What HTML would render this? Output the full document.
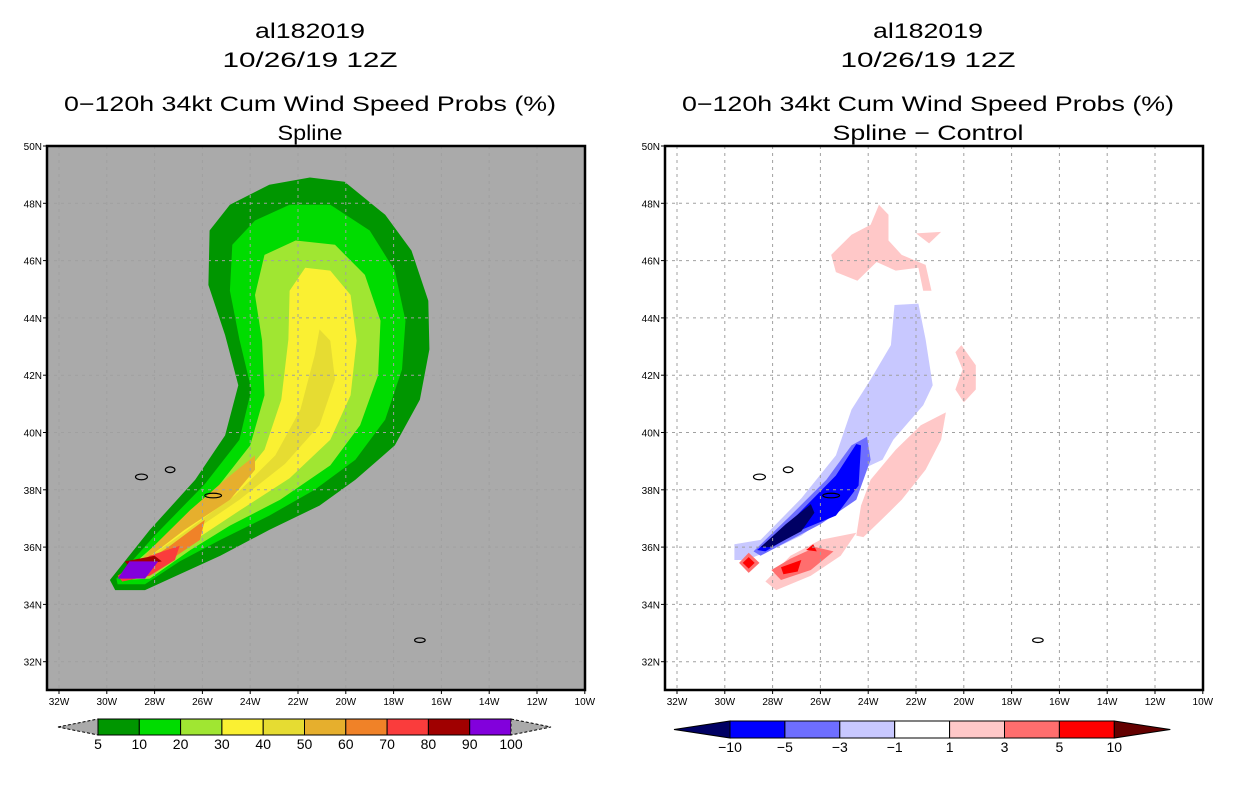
<!DOCTYPE html>
<html><head><meta charset="utf-8"><style>
html,body{margin:0;padding:0;background:#fff;}
svg{display:block;font-family:"Liberation Sans",sans-serif;}
</style></head><body>
<svg id="chart" width="1236" height="800" viewBox="0 0 1236 800" xmlns="http://www.w3.org/2000/svg">
<g id="titles"></g>
<g id="left"></g>
<g id="right"></g>
</svg>
<script>
// ---------- data (lon in degrees West, lat in degrees North) ----------
const lonTicks = [32,30,28,26,24,22,20,18,16,14,12,10];
const latTicks = [32,34,36,38,40,42,44,46,48,50];
const leftLevels = ['5','10','20','30','40','50','60','70','80','90','100'];
const leftColors = ['#009600','#00dc00','#a0e632','#faf032','#e6dc32','#e6af2d','#f08228','#fa3c3c','#a00000','#8200dc'];
const rightLevels = ['\u221210','\u22125','\u22123','\u22121','1','3','5','10'];
const rightColors = ['#000064','#0000ff','#6e6eff','#c8c8ff','#ffffff','#ffc8c8','#ff6e6e','#ff0000','#640000'];

const p5 = [[29.87,34.85],[28.2,36.6],[26.3,38.35],[25.05,39.9],[24.5,41.65],[25.05,43.4],[25.75,45.15],[25.7,47.05],[24.85,47.95],[23.2,48.65],[21.5,48.9],[20.05,48.75],[18.35,47.6],[17.25,46.35],[16.55,44.6],[16.5,42.9],[16.9,41.15],[17.95,39.55],[19.6,38.35],[21.1,37.45],[23.2,36.6],[25.25,35.7],[26.95,35.05],[28.4,34.5],[29.65,34.5]];
const p10 = [[29.6,34.9],[28.0,36.4],[25.9,38.2],[24.45,39.75],[23.95,41.5],[24.45,43.25],[24.85,44.95],[24.75,46.55],[23.8,47.4],[22.35,47.95],[20.65,47.95],[19.0,47.05],[17.95,45.65],[17.5,43.9],[17.65,42.2],[18.35,40.45],[19.6,39.05],[21.3,38.0],[23.2,37.1],[25.25,36.25],[26.95,35.5],[28.4,34.7],[29.55,34.7]];
const p20 = [[29.45,35.0],[27.8,36.2],[25.45,38.0],[24.0,39.55],[23.4,41.3],[23.5,43.2],[23.8,44.8],[23.4,46.2],[22.1,46.7],[20.45,46.55],[19.2,45.5],[18.55,43.9],[18.65,42.0],[19.4,40.25],[20.65,38.85],[22.75,37.65],[24.85,36.75],[26.5,35.9],[28.2,34.9],[29.35,34.85]];
const p30 = [[29.25,35.1],[27.35,36.25],[24.85,37.9],[23.4,39.4],[22.7,41.15],[22.4,43.25],[22.35,44.95],[21.7,45.75],[20.65,45.65],[19.8,44.8],[19.55,43.2],[19.8,41.3],[20.65,39.75],[22.35,38.4],[24.4,37.3],[26.3,36.25],[27.95,35.2],[29.1,34.9]];
const p40 = [[29.0,35.2],[26.95,36.4],[24.65,37.8],[22.95,39.2],[21.9,40.8],[21.3,42.7],[21.1,43.6],[20.65,43.2],[20.45,41.85],[21.1,40.25],[22.55,38.9],[24.45,37.65],[26.3,36.6],[28.2,35.4]];
const p50 = [[28.8,35.3],[26.75,36.6],[24.85,37.65],[23.8,38.7],[23.8,39.2],[25.05,38.35],[26.5,37.3],[28.2,35.9]];
const p60 = [[28.6,35.35],[27.35,36.05],[25.9,36.95],[26.1,36.25],[27.35,35.55]];
const p70 = [[29.55,35.0],[28.2,35.7],[26.95,36.05],[27.15,35.55],[28.2,35.0],[29.35,34.8]];
const p80 = [[29.25,35.5],[28.0,35.7],[27.7,35.5],[29.05,35.3]];
const p90 = [[29.55,34.9],[29.05,35.5],[27.85,35.5],[28.4,34.9]];

const nLight = [[29.6,36.1],[28.5,36.25],[26.8,37.7],[25.35,39.2],[24.7,40.8],[23.9,41.85],[23.05,43.05],[22.9,44.45],[21.9,44.5],[21.6,43.25],[21.3,41.65],[21.7,40.95],[22.95,39.75],[23.4,39.05],[24.3,38.7],[25.35,37.3],[26.8,36.4],[28.05,35.9],[29.1,35.55],[29.6,35.55]];
const nMed = [[28.8,35.85],[27.25,37.1],[25.75,38.35],[24.7,39.55],[24.05,39.85],[23.9,39.05],[24.5,37.65],[26.0,36.8],[27.25,36.25],[28.5,35.7]];
const nBlue = [[28.65,35.9],[27.0,37.1],[25.35,38.5],[24.5,39.6],[24.3,39.55],[24.4,38.15],[25.35,37.1],[26.8,36.6],[28.3,35.85]];
const nNavy = [[28.5,36.0],[27.45,36.8],[26.4,37.5],[26.25,37.2],[26.8,36.55],[28.05,36.0]];
const pinkA = [[24.5,36.4],[24.3,37.45],[23.9,38.35],[22.85,39.4],[21.8,40.25],[20.75,40.7],[20.95,39.75],[21.6,38.7],[22.6,37.65],[23.45,36.95],[24.2,36.35]];
const pinkB = [[28.3,34.8],[27.25,35.7],[26.0,36.25],[24.5,36.5],[25.15,35.7],[26.4,35.0],[27.85,34.5]];
const pinkTop = [[25.55,46.2],[24.7,46.9],[23.9,47.25],[23.55,47.95],[23.15,47.6],[23.15,46.7],[22.6,46.2],[21.6,45.85],[21.35,44.95],[21.7,44.95],[21.9,45.75],[22.85,45.65],[23.65,45.95],[24.45,45.3],[25.35,45.6]];
const pinkSmall = [[22.0,46.95],[20.95,47.0],[21.45,46.6]];
const pinkCres = [[20.1,43.05],[19.5,42.35],[19.5,41.5],[20.0,41.05],[20.35,41.5],[20.05,42.2],[20.35,42.8]];
const red3 = [[28.05,35.2],[27.25,35.6],[26.2,36.0],[25.45,35.85],[26.4,35.2],[27.65,34.85]];
const red3d = [[29.4,35.45],[29.0,35.8],[28.55,35.45],[29.0,35.1]];
const red5 = [[27.65,35.3],[26.8,35.55],[26.95,35.15],[27.55,35.05]];
const red5d = [[29.25,35.45],[29.0,35.65],[28.75,35.45],[29.0,35.25]];
const red5s = [[26.6,35.9],[26.3,36.1],[26.15,35.85]];

// islands (lonW, lat, rx deg, ry deg)
const islands = [[28.55,38.45,0.25,0.1],[27.35,38.7,0.2,0.1],[25.55,37.8,0.35,0.08],[16.9,32.75,0.22,0.08]];

// ---------- axes ----------
const NS='http://www.w3.org/2000/svg';
function mk(tag, attrs, parent){const e=document.createElementNS(NS,tag);for(const k in attrs)e.setAttribute(k,attrs[k]);parent.appendChild(e);return e;}
function xs(off){return lon=>59+off+(32-lon)*23.9;}
const ys = lat=>146+(50-lat)*28.65;

function ptsStr(poly,xf){return poly.map(p=>xf(p[0]).toFixed(1)+','+ys(p[1]).toFixed(1)).join(' ');}

function drawPanel(g, off, bg, layers){
  const x=xs(off);
  const L=47+off, R=585+off, T=146, B=690;
  const bgr=mk('rect',{x:L,y:T,width:R-L,height:B-T,fill:bg},g);
  
  
  layers.forEach(([poly,col,name])=>{
    const pg=mk('polygon',{points:ptsStr(poly,x),fill:col},g);
    
    
  });
  islands.forEach(is=>{
    const e=mk('ellipse',{cx:x(is[0]),cy:ys(is[1]),rx:is[2]*23.9,ry:is[3]*28.65,fill:'none',stroke:'#000','stroke-width':1.2},g);
    
    
  });
  lonTicks.forEach(t=>{
    const gx=x(t);
    if(gx>L+2&&gx<R-2){const ln=mk('line',{x1:gx,y1:T,x2:gx,y2:B,stroke:'#a0a0a0','stroke-width':1,'stroke-dasharray':'3,4'},g);
      
      }
    mk('line',{x1:gx,y1:B,x2:gx,y2:B+4,stroke:'#000'},g);
    const tx=mk('text',{x:gx,y:B+15,'font-size':10,'text-anchor':'middle',fill:'#000'},g);
    tx.textContent=t+'W';
    
    
  });
  latTicks.forEach(t=>{
    const gy=ys(t);
    if(gy>T+2&&gy<B-2){const ln=mk('line',{x1:L,y1:gy,x2:R,y2:gy,stroke:'#a0a0a0','stroke-width':1,'stroke-dasharray':'3,4'},g);
      
      }
    mk('line',{x1:L-4,y1:gy,x2:L,y2:gy,stroke:'#000'},g);
    const tx=mk('text',{x:L-5,y:gy+4,'font-size':10,'text-anchor':'end',fill:'#000'},g);
    tx.textContent=t+'N';
    
    
  });
  const fr=mk('rect',{x:L,y:T,width:R-L,height:B-T,fill:'none',stroke:'#000','stroke-width':2.5},g);
  
  
}

function drawBar(g, x0, bw, y0, h, colors, labels, leftTri, rightTri, triLen){
  const lt=mk('polygon',{points:`${x0-triLen},${y0+h/2} ${x0},${y0} ${x0},${y0+h}`,fill:leftTri,stroke:'#000','stroke-width':1,'stroke-dasharray':leftTri==='#aaaaaa'?'3,2':'none'},g);
  
  
  colors.forEach((c,i)=>{
    const r=mk('rect',{x:x0+i*bw,y:y0,width:bw,height:h,fill:c,stroke:'#000','stroke-width':1},g);
    
    
  });
  const xe=x0+colors.length*bw;
  const rt=mk('polygon',{points:`${xe},${y0} ${xe+triLen},${y0+h/2} ${xe},${y0+h}`,fill:rightTri,stroke:'#000','stroke-width':1,'stroke-dasharray':rightTri==='#aaaaaa'?'3,2':'none'},g);
  
  
  labels.forEach((l,i)=>{
    const t=mk('text',{x:x0+i*bw,y:y0+h+14,'font-size':14,'text-anchor':'middle',fill:'#000'},g);
    t.textContent=l;
    
    
  });
}

// titles
const tg=document.getElementById('titles');
function title(txt,cx,y,w){const t=mk('text',{x:cx,y:y,'font-size':21,'text-anchor':'middle',fill:'#000',textLength:w,lengthAdjust:'spacingAndGlyphs'},tg);t.textContent=txt;
  
  }
[[310,0],[928,1]].forEach(([cx,i])=>{
  title('al182019',cx,38,110);
  title('10/26/19 12Z',cx,67,175);
  title('0\u2212120h 34kt Cum Wind Speed Probs (%)',cx,111,492);
  if(i===0) title('Spline',cx,140,65); else title('Spline \u2212 Control',cx,140,191);
});

const lg=document.getElementById('left');
drawPanel(lg,0,'#aaaaaa',[
 [p5,leftColors[0],'contour-5'],[p10,leftColors[1],'contour-10'],[p20,leftColors[2],'contour-20'],[p30,leftColors[3],'contour-30'],
 [p40,leftColors[4],'contour-40'],[p50,leftColors[5],'contour-50'],[p60,leftColors[6],'contour-60'],[p70,leftColors[7],'contour-70'],
 [p80,leftColors[8],'contour-80'],[p90,leftColors[9],'contour-90']]);
drawBar(lg,98,41.3,719,16,leftColors,leftLevels,'#aaaaaa','#aaaaaa',40);

const rg=document.getElementById('right');
drawPanel(rg,618,'#ffffff',[
 [nLight,rightColors[3],'diff-minus1'],[nMed,rightColors[2],'diff-minus3'],[nBlue,rightColors[1],'diff-minus5'],[nNavy,rightColors[0],'diff-minus10'],
 [pinkA,rightColors[5],'diff-plus1-a'],[pinkB,rightColors[5],'diff-plus1-b'],[pinkTop,rightColors[5],'diff-plus1-top'],[pinkSmall,rightColors[5],'diff-plus1-small'],[pinkCres,rightColors[5],'diff-plus1-east'],
 [red3,rightColors[6],'diff-plus3'],[red3d,rightColors[6],'diff-plus3-diamond'],[red5,rightColors[7],'diff-plus5'],[red5d,rightColors[7],'diff-plus5-diamond'],[red5s,rightColors[7],'diff-plus5-small']]);
drawBar(rg,730,54.9,721,17,rightColors.slice(1,8),rightLevels,rightColors[0],rightColors[8],56);
</script>
</body></html>
